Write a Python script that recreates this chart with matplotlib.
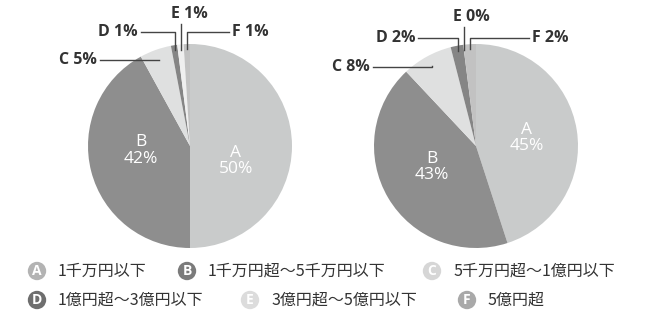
import numpy as np
import matplotlib.pyplot as plt

W, H = 659, 317

letters = ["A", "B", "C", "D", "E", "F"]
legend_labels = ["1千万円以下", "1千万円超～5千万円以下", "5千万円超～1億円以下",
                 "1億円超～3億円以下", "3億円超～5億円以下", "5億円超"]
left_vals = [50, 42, 5, 1, 1, 1]
right_vals = [45, 43, 8, 2, 0, 2]

slice_colors = ["#c9cbcb", "#8e8e8e", "#dfe0e0", "#858585", "#efefef", "#c2c2c2"]
legend_colors = ["#b3b3b3", "#7b7b7b", "#d6d6d6", "#6e6e6e", "#dcdcdc", "#a9a9a9"]

# layout, pixel coords (y from top)
R = 102
centers = [(190, 146), (476, 146)]
# nudges (px) for the inner A/B labels
inner_shift = [{"A": (-5, 15), "B": (0, -8)}, {"A": (0, 0), "B": (0, -5)}]
# label text positions for the small slices C, D, E, F: (x, y, ha)
small_pos = [
    {"C": (97, 60, "right"), "D": (138, 32, "right"), "E": (189, 14, "center"), "F": (232, 32, "left")},
    {"C": (370, 67, "right"), "D": (415, 38, "right"), "E": (471, 17, "center"), "F": (532, 38, "left")},
]
legend_pos = [(37, 271), (187, 271), (432, 271), (37, 300), (250, 300), (467, 300)]

fig = plt.figure(figsize=(W / 100, H / 100), dpi=100)
ax = fig.add_axes([0, 0, 1, 1])

def fy(y):
    return H - y

label_font = ["Open Sans", "DejaVu Sans"]

for vals, (cx, cy), pos, shift in zip([left_vals, right_vals], centers, small_pos, inner_shift):
    ax.pie(vals, colors=slice_colors, startangle=90, counterclock=False,
           radius=R, center=(cx, fy(cy)), wedgeprops=dict(linewidth=0))
    total = sum(vals)
    ang = 90.0
    for i, v in enumerate(vals):
        a0 = ang
        ang = ang - 360.0 * v / total
        mid = np.radians((a0 + ang) / 2)
        lab = letters[i]
        if lab in ("A", "B"):
            r = 0.5 * R
            dx, dy = shift[lab]
            tx = cx + r * np.cos(mid) + dx
            ty = fy(cy) + r * np.sin(mid) - dy
            ax.text(tx, ty, f"{lab}\n{v}%", color="white", fontsize=12.5,
                    ha="center", va="center", family=label_font, linespacing=1.05)
        else:
            rr = 0.9 * R if lab == "C" else 0.95 * R
            px = cx + rr * np.cos(mid)
            py = fy(cy) + rr * np.sin(mid)
            x, y, ha = pos[lab]
            ax.text(x, fy(y), f"{lab} {v}%", fontsize=11.5, fontweight="bold",
                    color="#333333", ha=ha, va="center", family=label_font)
            if lab == "E":
                ax.plot([px, px], [fy(y + 10), py], color="#444444", lw=1)
            else:
                x0 = x + 3 if ha == "right" else x - 3
                ax.plot([x0, px, px], [fy(y), fy(y), py], color="#444444", lw=1)

for (lx, ly), lab, col, txt in zip(legend_pos, letters, legend_colors, legend_labels):
    ax.scatter([lx], [fy(ly)], s=175, color=col, edgecolors="none", zorder=3)
    ax.text(lx, fy(ly), lab, color="white", fontsize=10, fontweight="bold",
            ha="center", va="center", family=label_font, zorder=4)
    ax.text(lx + 21, fy(ly), txt, fontsize=11.5, color="#333333", ha="left", va="center",
            family=["Noto Sans CJK JP", "DejaVu Sans"])

ax.set_xlim(0, W)
ax.set_ylim(0, H)
ax.set_aspect("equal")
ax.axis("off")

fig.savefig("out.png", dpi=100, facecolor="white")
